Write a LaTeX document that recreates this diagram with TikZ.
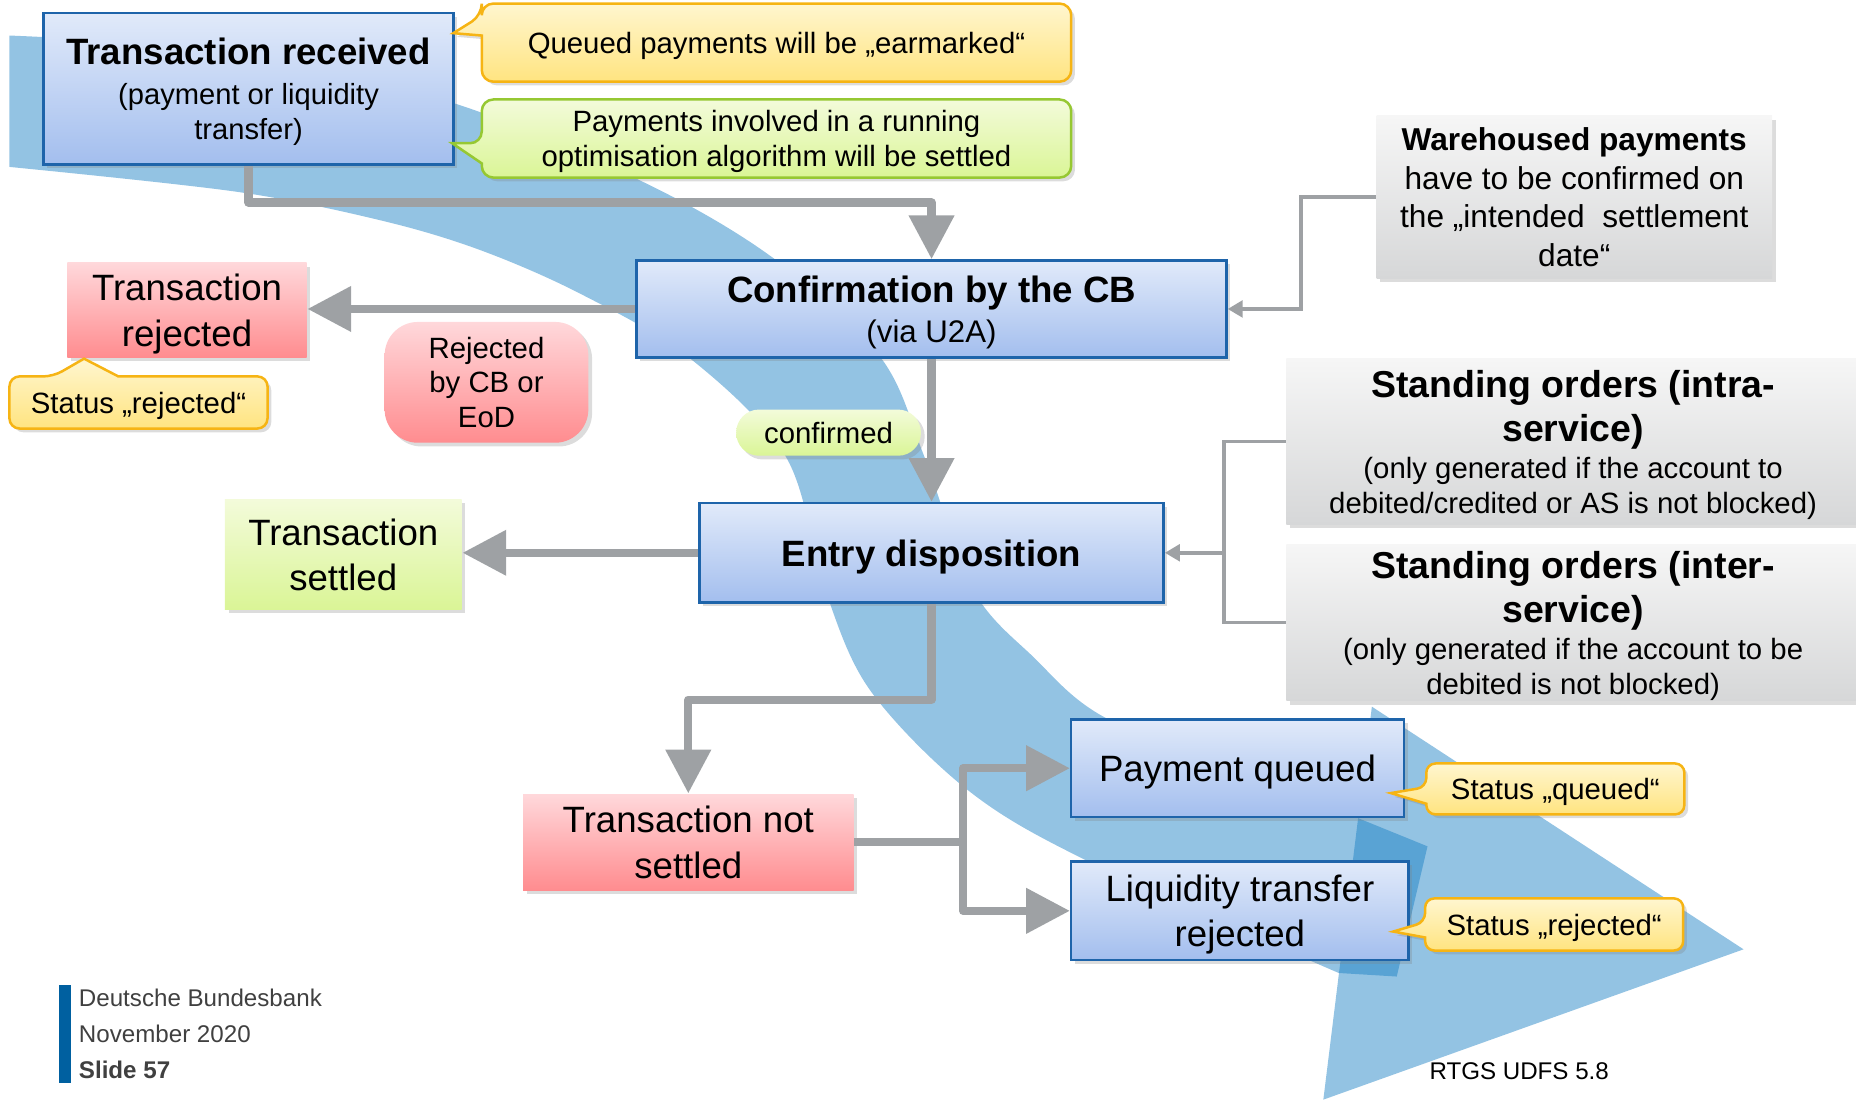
\documentclass[tikz,border=0pt]{standalone}
\usepackage{fontspec}
\setmainfont{Liberation Sans}
\usetikzlibrary{arrows.meta,shadows,calc}

% colours
\definecolor{bandblue}{RGB}{25,127,195}
\definecolor{flowgray}{RGB}{158,161,164}
\definecolor{boxblueline}{RGB}{30,100,170}
\definecolor{boxbluetop}{RGB}{225,234,250}
\definecolor{boxbluebot}{RGB}{163,190,238}
\definecolor{redtop}{RGB}{255,216,219}
\definecolor{redbot}{RGB}{255,140,143}
\definecolor{greentop}{RGB}{243,251,218}
\definecolor{greenbot}{RGB}{218,245,150}
\definecolor{graytop}{RGB}{246,246,246}
\definecolor{graybot}{RGB}{214,215,216}
\definecolor{yeltop}{RGB}{255,246,207}
\definecolor{yelbot}{RGB}{255,228,128}
\definecolor{yelline}{RGB}{246,180,20}
\definecolor{grnline}{RGB}{150,200,50}
\definecolor{footblue}{RGB}{0,96,160}
\definecolor{foottext}{RGB}{64,64,64}

% font sizes
\newcommand\FtTitle{\bfseries\fontsize{8.8}{10.6}\selectfont}
\newcommand\FtSub{\fontsize{7.0}{8.25}\selectfont}
\newcommand\FtBig{\fontsize{8.8}{10.9}\selectfont}
\newcommand\FtNote{\fontsize{7.05}{8.4}\selectfont}
\newcommand\FtWare{\fontsize{7.6}{9.3}\selectfont}
\newcommand\FtSO{\bfseries\fontsize{9}{10.2}\selectfont}
\newcommand\FtFoot{\fontsize{5.8}{8.7}\selectfont}

\begin{document}
\begin{tikzpicture}[x=0.01cm,y=-0.01cm,
  softshadow/.style={drop shadow={shadow xshift=0.9pt, shadow yshift=-0.9pt, opacity=0.28}},
  box/.style={rectangle, inner sep=0pt, align=center, text depth=0pt, softshadow},
  bluebox/.style={box, draw=boxblueline, line width=0.6pt, top color=boxbluetop, bottom color=boxbluebot},
  redbox/.style={box, top color=redtop, bottom color=redbot},
  greenbox/.style={box, top color=greentop, bottom color=greenbot},
  graybox/.style={box, top color=graytop, bottom color=graybot},
  pinkpill/.style={redbox, rounded corners=8pt},
  greenpill/.style={greenbox, rounded corners=5.5pt},
  callyellow/.style={draw=yelline, line width=0.6pt, top color=yeltop, bottom color=yelbot, softshadow},
  callgreen/.style={draw=grnline, line width=0.6pt, top color=greentop, bottom color=greenbot, softshadow},
  ctext/.style={font=\FtNote, align=center, inner sep=0pt, text depth=0pt},
  flow/.style={draw=flowgray, line width=2pt, line join=round},
  flowarrow/.style={flow, -{Triangle[length=10.5pt,width=10.5pt]}},
  feed/.style={draw=flowgray, line width=0.85pt},
  feedarrow/.style={feed, -{Triangle[length=3.6pt,width=4pt]}},
  band/.style={fill=bandblue, fill opacity=0.47}
]
\useasboundingbox (0,0) rectangle (1568,929);

% ---- sweeping background arrow ----
\fill[band] plot[smooth, tension=0.55] coordinates {(8,30) (200,44) (383,87) (546,155) (656,220) (744,302) (781,386) (822,498) (873,555) (935,607) (1070,660) (1206,715)}
  -- (1180,825)
  -- plot[smooth, tension=0.55] coordinates {(1131,822) (918,727) (817,667) (735,583) (697,498) (664,386) (582,302) (490,248) (405,211) (321,186) (200,162) (8,141)}
  -- cycle;
\fill[band] (1159,597) -- (1473,802) -- (1118,929) -- cycle;

% ---- process boxes ----
\node[bluebox, minimum width=3.46cm, minimum height=1.28cm, font=\FtSub] (recv) at (210,75)
  {{\FtTitle Transaction received}\\[1.4pt](payment or liquidity\\transfer)};
\node[bluebox, minimum width=4.98cm, minimum height=0.82cm, font=\FtSub] (confirm) at (787,261)
  {{\FtTitle Confirmation by the CB}\\[1.4pt]{\fontsize{7.5}{9}\selectfont (via U2A)}};
\node[bluebox, minimum width=3.92cm, minimum height=0.84cm, font=\FtTitle] (entry) at (787,467) {Entry disposition};
\node[redbox, minimum width=2.02cm, minimum height=0.80cm, font=\FtBig] (rej) at (158,262) {Transaction\\rejected};
\node[greenbox, minimum width=2.00cm, minimum height=0.93cm, font=\FtBig] (settled) at (290,468.5) {Transaction\\settled};
\node[redbox, minimum width=2.79cm, minimum height=0.81cm, font=\FtBig] (notset) at (581.5,711.5) {Transaction not\\settled};
\node[bluebox, minimum width=2.81cm, minimum height=0.82cm, font=\FtBig] (queued) at (1045.5,649) {Payment queued};
\node[bluebox, minimum width=2.85cm, minimum height=0.83cm, font=\FtBig] (liqrej) at (1047.5,769.5) {Liquidity transfer\\rejected};

% ---- side information boxes ----
\node[graybox, minimum width=3.34cm, minimum height=1.37cm, font=\FtWare] (ware) at (1330,166.5)
  {{\bfseries Warehoused payments}\\have to be confirmed on\\the „intended\ \ settlement\\date“};
\node[graybox, minimum width=4.84cm, minimum height=1.40cm, font=\FtNote] (intra) at (1329,373)
  {{\FtSO Standing orders (intra-}\\[1.2pt]{\FtSO service)}\\[0.4pt](only generated if the account to\\debited/credited or AS is not blocked)};
\node[graybox, minimum width=4.84cm, minimum height=1.32cm, font=\FtNote] (inter) at (1329,526)
  {{\FtSO Standing orders (inter-}\\[1.2pt]{\FtSO service)}\\[0.4pt](only generated if the account to be\\debited is not blocked)};

% ---- condition labels ----
\node[pinkpill, minimum width=1.72cm, minimum height=1.02cm, font=\FtNote] (cbeod) at (411,323) {Rejected\\by CB or\\EoD};
\node[greenpill, minimum width=1.56cm, minimum height=0.39cm, font=\FtNote] (conf) at (700,365.5) {confirmed};

% ---- main flow ----
\draw[flowarrow] (recv.south) -- ++(0,31) -| (confirm.north);
\draw[flowarrow] (confirm.west) -- (confirm.west -| rej.east);
\draw[flowarrow] (confirm.south) -- (entry.north);
\draw[flowarrow] (entry.west) -- (entry.west -| settled.east);
\draw[flowarrow] (entry.south) -- ++(0,81) -| (notset.north);
\draw[flow] (notset.east) -- ++(92,0) coordinate (split);
\draw[flowarrow] (split) |- (queued.west);
\draw[flowarrow] (split) |- (liqrej.west);

% ---- feeds into the flow ----
\draw[feedarrow] (ware.west) -- ++(-63,0) |- (confirm.east);
\draw[feed] (intra.west) -- ++(-52,0) coordinate (bracket) |- (inter.west);
\coordinate (jn) at (bracket |- entry.east);
\draw[feedarrow] (jn) -- (entry.east);

% ---- callouts ----
\path[callyellow] (407,30) [rounded corners=2.8pt] -- (407,69) -- (905,69) -- (905,3) -- (407,3) -- (407,13) [sharp corners] -- (383,28) -- cycle;
\node[ctext] (earmark) at (656,36) {Queued payments will be „earmarked“};

\path[callgreen] (407,138) [rounded corners=2.8pt] -- (407,150) -- (905,150) -- (905,84) -- (407,84) -- (407,121) [sharp corners] -- (382,121) -- cycle;
\node[ctext] (optim) at (656,117) {Payments involved in a running\\optimisation algorithm will be settled};

\path[callyellow] (100,318) [rounded corners=2.4pt] -- (226,318) -- (226,362) -- (8,362) -- (8,318) -- (45,318) [sharp corners] -- (71,303) -- cycle;
\node[ctext] (strej) at (117,340) {Status „rejected“};

\path[callyellow] (1205,679) [rounded corners=2.2pt] -- (1205,688) -- (1423,688) -- (1423,645) -- (1205,645) -- (1205,665) [sharp corners] -- (1175,670) -- cycle;
\node[ctext] (stque) at (1314,666.5) {Status „queued“};

\path[callyellow] (1204,792) [rounded corners=2.2pt] -- (1204,803) -- (1422,803) -- (1422,759) -- (1204,759) -- (1204,779) [sharp corners] -- (1177,787) -- cycle;
\node[ctext] (stlrej) at (1313,781) {Status „rejected“};

% ---- footer ----
\fill[footblue] (50,832) rectangle (60,915);
\node[font=\FtFoot, text=foottext, align=left, anchor=west, inner sep=0pt] (footer) at (66,873.5)
  {Deutsche Bundesbank\\November 2020\\\textbf{Slide 57}};
\node[font=\FtFoot, anchor=west, inner sep=0pt] (docref) at (1207,905) {RTGS UDFS 5.8};
\end{tikzpicture}
\end{document}
